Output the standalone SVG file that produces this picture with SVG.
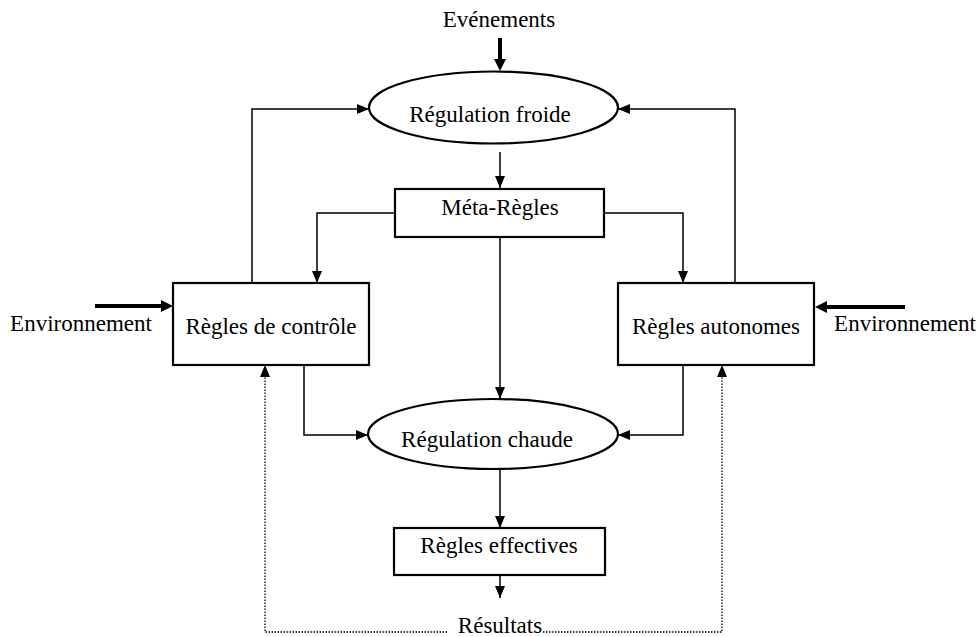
<svg xmlns="http://www.w3.org/2000/svg" width="978" height="637" viewBox="0 0 978 637">
  <style>
    text { font-family: "Liberation Serif", "Times New Roman", serif; font-size: 23px; fill: #000; text-anchor: middle; }
    .shape { fill: #fff; stroke: #000; stroke-width: 2.2; }
    .link { fill: none; stroke: #000; stroke-width: 1.5; }
    .thick { fill: none; stroke: #000; stroke-width: 4; }
    .dotted { fill: none; stroke: #000; stroke-width: 1.3; stroke-dasharray: 1.5 1.5; }
  </style>
  <defs>
    <marker id="arrow" viewBox="0 0 12 10" refX="12" refY="5" markerWidth="12" markerHeight="10" markerUnits="userSpaceOnUse" orient="auto">
      <path d="M0,0 L12,5 L0,10 Z" fill="#000"/>
    </marker>
    <marker id="arrowBig" viewBox="0 0 12 10" refX="12" refY="5" markerWidth="12" markerHeight="10" markerUnits="userSpaceOnUse" orient="auto">
      <path d="M0,0 L12,5 L0,10 Z" fill="#000"/>
    </marker>
  </defs>

  <!-- connectors -->
  <g id="connectors">
    <!-- external inputs -->
    <line class="thick" x1="500" y1="38" x2="500" y2="60"/>
    <path d="M494,59 L506,59 L500,71 Z" fill="#000"/>
    <line class="thick" x1="95" y1="306" x2="162" y2="306"/>
    <path d="M161,300 L173,306 L161,312 Z" fill="#000"/>
    <line class="thick" x1="905" y1="307" x2="826" y2="307"/>
    <path d="M827,301 L815,307 L827,313 Z" fill="#000"/>

    <!-- feedback loops to Régulation froide -->
    <polyline class="link" points="252,283 252,109 369,109" marker-end="url(#arrow)"/>
    <polyline class="link" points="735,283 735,109 618,109" marker-end="url(#arrow)"/>

    <!-- Régulation froide to Méta-Règles -->
    <line class="link" x1="500" y1="152" x2="500" y2="188" marker-end="url(#arrow)"/>

    <!-- Méta-Règles fan-out -->
    <polyline class="link" points="395,213 317,213 317,283" marker-end="url(#arrow)"/>
    <polyline class="link" points="604,213 683,213 683,283" marker-end="url(#arrow)"/>
    <line class="link" x1="500" y1="237" x2="500" y2="399" marker-end="url(#arrow)"/>

    <!-- rule sets to Régulation chaude -->
    <polyline class="link" points="304,365 304,435 368,435" marker-end="url(#arrow)"/>
    <polyline class="link" points="683,365 683,435 618,435" marker-end="url(#arrow)"/>

    <!-- Régulation chaude to Règles effectives to Résultats -->
    <line class="link" x1="500" y1="469" x2="500" y2="528" marker-end="url(#arrow)"/>
    <line class="link" x1="500" y1="575" x2="500" y2="598" marker-end="url(#arrow)"/>

    <!-- dotted result feedback -->
    <polyline class="dotted" points="447,632 265,632 265,376"/>
    <path d="M260,377 L265,365 L270,377 Z" fill="#000"/>
    <polyline class="dotted" points="543,632 722,632 722,376"/>
    <path d="M717,377 L722,365 L727,377 Z" fill="#000"/>
  </g>

  <g id="evenements">
    <text x="499" y="27">Evénements</text>
  </g>

  <g id="regulation-froide">
    <ellipse class="shape" cx="493.5" cy="107.5" rx="124.5" ry="36"/>
    <text x="490" y="122">Régulation froide</text>
  </g>

  <g id="meta-regles">
    <rect class="shape" x="395" y="189" width="209" height="48"/>
    <text x="500" y="215">Méta-Règles</text>
  </g>

  <g id="regles-controle">
    <rect class="shape" x="173" y="283" width="196" height="82"/>
    <text x="271" y="334">Règles de contrôle</text>
  </g>

  <g id="regles-autonomes">
    <rect class="shape" x="618" y="283" width="196" height="82"/>
    <text x="716" y="334">Règles autonomes</text>
  </g>

  <g id="environnement-gauche">
    <text x="81" y="331">Environnement</text>
  </g>

  <g id="environnement-droit">
    <text x="905" y="331">Environnement</text>
  </g>

  <g id="regulation-chaude">
    <ellipse class="shape" cx="493" cy="434" rx="125" ry="35"/>
    <text x="487" y="447">Régulation chaude</text>
  </g>

  <g id="regles-effectives">
    <rect class="shape" x="394" y="528" width="211" height="47"/>
    <text x="499" y="553">Règles effectives</text>
  </g>

  <g id="resultats">
    <text x="500" y="633">Résultats</text>
  </g>
</svg>
